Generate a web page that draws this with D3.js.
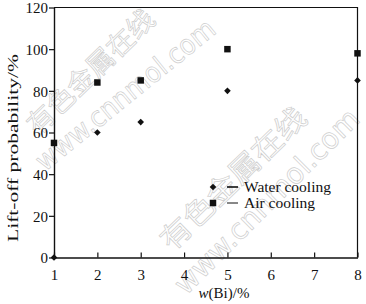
<!DOCTYPE html>
<html>
<head>
<meta charset="utf-8">
<script src="https://cdn.jsdelivr.net/npm/d3@7"></script>
<style>
  body { margin: 0; background: #fff; }
  svg { display: block; }
  text { font-family: "Liberation Serif", "Times New Roman", serif; fill: #111; }
</style>
</head>
<body>
<svg width="366" height="304"></svg>
<script>
// data
const bi = [1, 2, 3, 5, 8];
const waterCooling = [0, 60, 65, 80, 85];
const airCooling = [55, 84, 85, 100, 98];
const xTicks = [1, 2, 3, 4, 5, 6, 7, 8];
const yTicks = [0, 20, 40, 60, 80, 100, 120];
const seriesNames = ["Water cooling", "Air cooling"];

const svg = d3.select("svg");
const x = d3.scaleLinear().domain([1, 8]).range([54, 357.5]);
const y = d3.scaleLinear().domain([0, 120]).range([257.5, 7.5]);

// faint site watermark
const wm = svg.append("g")
    .attr("fill", "none")
    .attr("stroke", "#cdcdcd")
    .attr("stroke-width", 0.7);
function mark(txt, x0, y0, ang, len, size, font) {
    wm.append("text")
        .attr("transform", `translate(${x0},${y0}) rotate(${ang})`)
        .attr("font-size", size)
        .style("font-family", font)
        .style("fill", "none")
        .attr("textLength", len)
        .attr("lengthAdjust", "spacingAndGlyphs")
        .text(txt);
}
mark("有色金属在线", 38, 136, -44, 165, 27, "Noto Sans CJK SC");
mark("www.cnnmol.com", 45, 172, -39, 222, 28, "DejaVu Sans");
mark("有色金属在线", 172, 252, -44, 190, 29, "Noto Sans CJK SC");
mark("www.cnnmol.com", 186, 296, -45, 248, 29, "DejaVu Sans");

// frame
svg.append("path")
    .attr("d", `M${x(1)},${y(120)}H${x(8)}V${y(0)}`)
    .attr("fill", "none")
    .attr("stroke", "#111")
    .attr("stroke-width", 1.2);

const xAxis = svg.append("g")
    .attr("transform", `translate(0,${y(0)})`)
    .call(d3.axisBottom(x).tickValues(xTicks).tickFormat(d3.format("d"))
        .tickSizeInner(-5).tickSizeOuter(0).tickPadding(12));
const yAxis = svg.append("g")
    .attr("transform", `translate(${x(1)},0)`)
    .call(d3.axisLeft(y).tickValues(yTicks).tickSizeInner(5).tickSizeOuter(0).tickPadding(1));

[xAxis, yAxis].forEach(g => {
    g.select(".domain").attr("stroke", "#111").attr("stroke-width", 1.4);
    g.selectAll(".tick line").attr("stroke", "#111").attr("stroke-width", 1.2);
    g.selectAll(".tick text")
        .attr("fill", "#111")
        .style("font-family", "Liberation Serif, serif")
        .style("font-size", "15px");
});
yAxis.selectAll(".tick text").attr("dy", "0.36em");

// axis titles
svg.append("text")
    .attr("x", 224).attr("y", 298)
    .attr("text-anchor", "middle")
    .style("font-size", "15px")
    .html('<tspan font-style="italic">w</tspan>(Bi)/%');
svg.append("text")
    .attr("transform", "translate(18,148) rotate(-90)")
    .attr("text-anchor", "middle")
    .style("font-size", "15px")
    .attr("textLength", 188)
    .attr("lengthAdjust", "spacingAndGlyphs")
    .text("Lift-off probability/%");

// points
const diamond = d3.symbol(d3.symbolSquare, 22);
const square = d3.symbol(d3.symbolSquare, 42);
svg.append("g").selectAll("path")
    .data(bi.map((b, i) => [b, waterCooling[i]]))
    .join("path")
    .attr("d", diamond)
    .attr("transform", d => `translate(${x(d[0])},${y(d[1])}) rotate(45)`)
    .attr("fill", "#111");
svg.append("g").selectAll("path")
    .data(bi.map((b, i) => [b, airCooling[i]]))
    .join("path")
    .attr("d", square)
    .attr("transform", d => `translate(${x(d[0])},${y(d[1])})`)
    .attr("fill", "#111");

// legend
const leg = svg.append("g").attr("transform", "translate(213,187)");
seriesNames.forEach((name, i) => {
    const row = leg.append("g").attr("transform", `translate(0,${i * 16})`);
    row.append("path")
        .attr("d", i === 0 ? diamond : square)
        .attr("transform", i === 0 ? "rotate(45)" : null)
        .attr("fill", "#111");
    row.append("line")
        .attr("x1", 14).attr("x2", 25)
        .attr("stroke", "#111")
        .attr("stroke-width", i === 0 ? 1.6 : 1);
    row.append("text")
        .attr("x", 31).attr("y", 5)
        .style("font-size", "15.5px")
        .text(name);
});
</script>
</body>
</html>
